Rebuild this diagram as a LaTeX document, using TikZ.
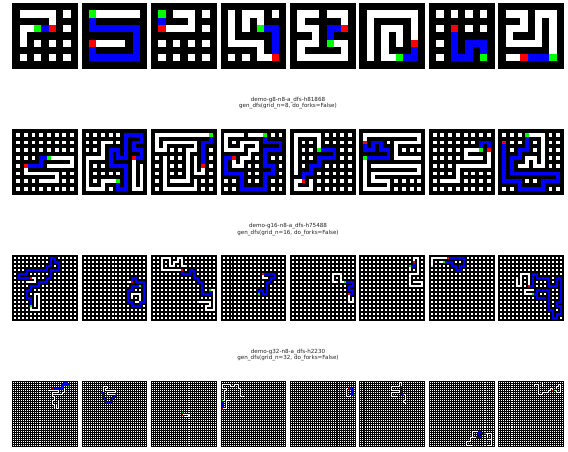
\documentclass[tikz,border=0pt]{standalone}
\usepackage{fontspec}
\setmainfont{DejaVu Sans}
\definecolor{mzgreen}{RGB}{0,255,0}
\definecolor{mzblue}{RGB}{0,0,255}
\definecolor{mzred}{RGB}{255,0,0}
\tikzset{
  caption/.style={font=\fontsize{5.6}{6.9}\selectfont, text=black!85, align=center, inner sep=0pt},
  passage/.style={draw=white, line cap=rect, line join=miter},
  solved/.style={draw=mzblue, line cap=rect, line join=miter}
}
\newcommand{\maze}[7]{
  \pgfmathsetmacro\mcell{65.7/(2*#3+1)}
  \pgfmathtruncatemacro\nlast{#3-1}
  \pgfmathsetmacro\xleft{12.2+69.45*#1}
  \begin{scope}[shift={(\xleft,#2)}]
    \fill[black] (0,0) rectangle (65.7,65.7);
  \end{scope}
  \begin{scope}[shift={(\xleft+1.5*\mcell,#2+1.5*\mcell)}, x=2*\mcell pt, y=-2*\mcell pt, line width=\mcell pt]
    \foreach \rr in {0,...,\nlast}
      \draw[white, dash pattern=on \mcell pt off \mcell pt] (-0.25,\rr) -- (\nlast+0.25,\rr);
    \draw[passage] #4;
    \draw[solved] #5;
    \fill[mzgreen] #6 ++(-0.25,-0.25) rectangle ++(0.5,0.5);
    \fill[mzred] #7 ++(-0.25,-0.25) rectangle ++(0.5,0.5);
  \end{scope}
}
\begin{document}
\begin{tikzpicture}[x=1pt, y=-1pt]
  \useasboundingbox[fill=white] (0,0) rectangle (568,451);
  % grid_n=4
  \maze{0}{3}{4}{(0,2)--(0,1)--(1,1) (0,0)--(2,0)--(2,1)}{(1,1)--(2,1)}{(1,1)}{(2,1)}
  \maze{1}{3}{4}{(0,0)--(3,0) (0,2)--(2,2)}{(0,0)--(0,1)--(3,1)--(3,3)--(0,3)--(0,2)}{(0,0)}{(0,2)}
  \maze{2}{3}{4}{(0,1)--(2,1)--(2,0)--(1,0)}{(0,0)--(0,1)}{(0,0)}{(0,1)}
  \maze{3}{3}{4}{(0,0)--(0,2)--(2,2)--(2,3)--(3,3) (1,1)--(1,0)--(2,0)--(2,1)}{(2,1)--(3,1)--(3,3)}{(2,1)}{(3,3)}
  \maze{4}{3}{4}{(1,0)--(0,0)--(0,1)--(1,1)--(1,2)--(0,2)--(0,3)--(3,3)--(3,2)--(2,2) (2,0)--(3,0)--(3,1)}{(3,1)--(2,1)--(2,2)}{(2,2)}{(3,1)}
  \maze{5}{3}{4}{(0,3)--(0,0)--(3,0)--(3,2) (2,3)--(1,3)--(1,1)--(2,1)--(2,2)}{(3,2)--(3,3)--(2,3)}{(2,3)}{(3,2)}
  \maze{6}{3}{4}{}{(1,1)--(1,3)--(2,3)--(2,2)--(3,2)--(3,3)}{(3,3)}{(1,1)}
  \maze{7}{3}{4}{(0,0)--(1,0)--(1,1)--(0,1)--(0,2)--(2,2)--(2,0)--(3,0)--(3,3) (0,3)--(1,3)}{(1,3)--(3,3)}{(3,3)}{(1,3)}
  % grid_n=8
  \node[caption] (titleg8) at (288,103) {demo-g8-n8-a\_dfs-h81868\\gen\_dfs(grid\_n=8, do\_forks=False)};
  \maze{0}{129}{8}{(4,3)--(7,3)--(7,4)--(4,4) (1,4)--(1,5)--(5,5)--(5,6)--(3,6)}{(4,3)--(3,3)--(3,4)--(1,4)}{(4,3)}{(1,4)}
  \maze{1}{129}{8}{(3,1)--(2,1)--(2,3)--(0,3)--(0,7)--(2,7)--(2,6)--(4,6) (6,3)--(6,7)--(7,7)--(7,4)}{(6,3)--(7,3)--(7,2)--(6,2)--(6,1)--(7,1)--(7,0)--(5,0)--(5,3)--(4,3)--(4,2)--(3,2)--(3,4)--(5,4)--(5,7)--(4,7)--(4,6)}{(4,6)}{(6,3)}
  \maze{2}{129}{8}{(7,0)--(0,0)--(0,2)--(1,2)--(1,1)--(5,1)--(5,2)--(4,2)--(4,6)--(2,6) (1,3)--(1,7)--(5,7)--(5,6) (6,4)--(6,5)--(5,5)--(5,3)}{(7,0)--(7,1)--(6,1)--(6,4)}{(7,0)}{(6,4)}
  \maze{3}{129}{8}{(5,0)--(3,0) (2,0)--(0,0)--(0,2)--(2,2)--(2,1)--(4,1)--(4,2)--(3,2)--(3,3)--(2,3)--(2,4)--(1,4)--(1,3)}{(1,3)--(0,3)--(0,5)--(2,5)--(2,7)--(5,7)--(5,5)--(6,5)--(6,4)--(5,4)--(5,2)--(7,2)--(7,1)--(5,1)--(5,0)}{(5,0)}{(1,3)}
  \maze{4}{129}{8}{(3,2)--(3,0)--(0,0)--(0,5) (1,6)--(0,6)--(0,7)--(2,7)--(2,6)}{(3,2)--(5,2)--(5,3)--(3,3)--(3,4)--(2,4)--(2,5)--(1,5)--(1,6)}{(3,2)}{(1,6)}
  \maze{5}{129}{8}{(0,1)--(0,0)--(7,0)--(7,1)--(4,1)--(4,3)--(7,3) (0,3)--(0,7)--(3,7)--(3,6)--(1,6)--(1,5)--(7,5)--(7,4)--(1,4)}{(0,3)--(3,3)--(3,2)--(2,2)--(2,1)--(1,1)--(1,2)--(0,2)--(0,1)}{(0,3)}{(0,1)}
  \maze{6}{129}{8}{(6,2)--(4,2)--(4,3)--(6,3) (7,2)--(7,4)--(3,4)--(3,6)--(1,6)}{(6,2)--(6,1)--(7,1)--(7,2)}{(6,2)}{(7,2)}
  \maze{7}{129}{8}{(3,0)--(5,0)--(5,4)--(4,4)--(4,3)--(3,3)--(3,4)--(2,4)}{(0,1)--(0,6)--(2,6)--(2,7)--(5,7)--(5,6)--(7,6)--(7,5)--(1,5)--(1,3)--(2,3)--(2,2)--(3,2)--(3,0)}{(3,0)}{(0,1)}
  % grid_n=16
  \node[caption] (titleg16) at (288,229.5) {demo-g16-n8-a\_dfs-h75488\\gen\_dfs(grid\_n=16, do\_forks=False)};
  \maze{0}{255}{16}{(4,5)--(5,5)--(5,6)--(3,6) (4,12)--(4,13)--(6,13)--(6,9)--(5,9)--(5,12)}{(4,5)--(1,5)--(1,4)--(3,4)--(3,3)--(8,3)--(8,2)--(9,2)--(9,0)--(10,0)--(10,1)--(11,1)--(11,3)--(9,3)--(9,5)--(8,5)--(8,6)--(6,6)--(6,7)--(4,7)--(4,8)--(3,8)--(3,10)--(4,10)--(4,12)}{(4,12)}{(4,5)}
  \maze{1}{255}{16}{(12,6)--(11,6) (12,10)--(12,9)--(14,9)--(14,11)--(13,11)}{(12,6)--(12,5)--(13,5)--(13,6)--(15,6)--(15,11)--(14,11)--(14,12)--(12,12)--(12,11)--(11,11)--(11,8)--(12,8)--(12,7)--(14,7)}{(14,7)}{(12,6)}
  \maze{2}{255}{16}{(7,3)--(2,3)--(2,0)--(4,0)--(4,2)--(5,2)--(5,1)--(6,1)--(6,0)--(7,0)--(7,2)--(8,2) (14,8)--(15,8)--(15,13)--(13,13)--(13,12)--(14,12)--(14,11)--(11,11)}{(7,3)--(7,4)--(9,4)--(9,3)--(10,3)--(10,5)--(11,5)--(11,6)--(12,6)--(12,9)--(14,9)--(14,8)}{(14,8)}{(7,3)}
  \maze{3}{255}{16}{(10,4)--(10,5)--(11,5)}{(10,4)--(13,4)--(13,5)--(12,5)--(12,6)--(11,6)--(11,9)--(10,9)--(10,8)--(9,8)--(9,9)}{(9,9)}{(10,4)}
  \maze{4}{255}{16}{(14,9)--(14,11)--(15,11)--(15,10) (13,6)--(12,6)--(12,4)--(10,4)--(10,6)--(11,6)}{(13,6)--(15,6)--(15,7)--(14,7)--(14,8)--(15,8)--(15,9)--(14,9)}{(13,6)}{(14,9)}
  \maze{5}{255}{16}{(12,2)--(12,3) (13,1)--(13,0)--(14,0)--(14,4)--(12,4)--(12,7)--(15,7)--(15,6)--(13,6)}{(13,1)--(13,2)--(12,2)}{(12,2)}{(13,1)}
  \maze{6}{255}{16}{(4,0)--(0,0)--(0,2) (3,1)--(2,1)}{(4,0)--(8,0)--(8,2)--(7,2)--(7,3)--(6,3)--(6,2)--(5,2)--(5,1)--(3,1)}{(3,1)}{(4,0)}
  \maze{7}{255}{16}{(7,7)--(7,4)--(5,4)--(5,7)--(4,7)--(4,5) (8,9)--(6,9)--(6,8)--(8,8)}{(7,7)--(8,7)--(8,4)--(9,4)--(9,5)--(12,5)--(12,7)--(14,7)--(14,5)--(15,5)--(15,11)--(14,11)--(14,12)--(15,12)--(15,14)--(14,14)--(14,15)--(13,15)--(13,13)--(12,13)--(12,8)--(9,8)--(9,10)--(11,10) (8,9)--(9,9)}{(8,9)}{(7,7)}
  % grid_n=32
  \node[caption] (titleg32) at (288,355) {demo-g32-n8-a\_dfs-h2230\\gen\_dfs(grid\_n=32, do\_forks=False)};
  \maze{0}{381}{32}{(17,4)--(22,4)--(22,5)--(19,5)--(19,6)--(24,6)--(24,5)--(25,5)--(25,3) (19,6)--(19,7)--(20,7)--(20,9)--(19,9)--(19,11)--(20,11)--(20,13) (22,9)--(22,13)--(21,13)--(21,11)}{(19,3)--(24,3)--(24,1)--(25,1)--(25,0)--(26,0)--(26,1)--(27,1)--(27,2)}{(27,2)}{(19,3)}
  \maze{1}{381}{32}{(10,5)--(10,2)--(12,2)--(12,3)--(11,3)--(11,4)--(16,4)--(16,5)--(12,5)--(12,6)--(16,6)}{(9,5)--(10,5)--(10,8)--(11,8)--(11,10)--(14,10)--(14,8)--(15,8)--(15,7)--(16,7)--(16,6)}{(16,6)}{(9,5)}
  \maze{2}{381}{32}{(15,16)--(18,16)--(18,17)--(16,17)}{(15,15)--(15,16)}{(15,15)}{(15,16)}
  \maze{3}{381}{32}{(0,9)--(1,9)--(1,4)--(2,4)--(2,3)--(0,3)--(0,1)--(4,1)--(4,2)--(6,2)--(6,1)--(8,1)--(8,3)--(9,3)--(9,7)--(11,7) (0,13)--(2,13)--(2,9)--(4,9)}{(0,9)--(0,13)}{(0,9)}{(0,13)}
  \maze{4}{381}{32}{(28,3)--(27,3)--(27,7)--(29,7)--(29,6)}{(28,3)--(30,3)--(30,6)--(29,6) (30,6)--(31,6)}{(31,6)}{(28,3)}
  \maze{5}{381}{32}{(20,2)--(20,0)--(19,0)--(19,2)--(15,2)--(15,4)--(19,4)--(19,5)--(15,5)--(15,7)--(18,7) (21,6)--(22,6)--(22,9)--(21,9)--(21,10)--(22,10)--(22,11)}{(20,2)--(20,6)--(21,6)}{(21,6)}{(20,2)}
  \maze{6}{381}{32}{(24,24)--(21,24)--(21,27)--(20,27)--(20,29)--(18,29)--(18,31)--(21,31) (27,25)--(28,25)--(28,27) (30,25)--(30,31)--(28,31) (28,28)--(30,28) (28,25)--(30,25) (23,27)--(21,27)}{(23,27)--(25,27)--(25,26)--(24,26)--(24,24)--(25,24)--(25,25)--(27,25)}{(27,25)}{(23,27)}
  \maze{7}{381}{32}{(17,2)--(17,1)--(19,1)--(19,6)--(21,6)--(21,5)--(24,5)--(24,4)--(25,4)--(25,3)--(26,3)--(26,4) (21,0)--(21,2) (27,4)--(28,4)--(28,5)--(30,5)--(30,1)--(29,1)--(29,2)--(28,2)--(28,3)}{(26,4)--(27,4)}{(27,4)}{(26,4)}
\end{tikzpicture}
\end{document}
